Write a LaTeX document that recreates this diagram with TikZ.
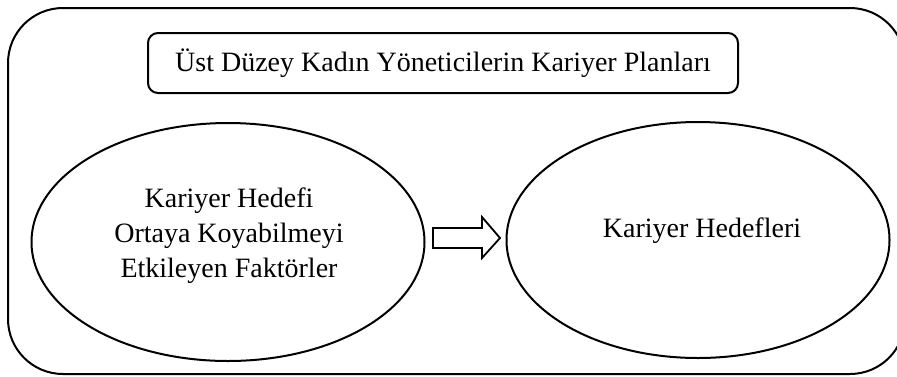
\documentclass[tikz,border=0pt]{standalone}
\usepackage{fontspec}
\setmainfont{Liberation Serif}
\usetikzlibrary{shapes.geometric}
\begin{document}
\begin{tikzpicture}[x=1pt,y=-1pt,
  frame/.style={draw=black,line width=2pt},
  lbl/.style={font=\fontsize{28}{35}\selectfont,align=center,text=black},
  oval/.style={frame,ellipse,inner sep=0pt},
  blockarrow/.style={draw=black,line width=1.8pt,fill=white,line join=miter}]
\useasboundingbox (0,0) rectangle (897,376);
\clip (0,0) rectangle (897,376);
\draw[frame,rounded corners=55pt] (8,8) rectangle (905,374);
\node[frame,rounded corners=10pt,minimum width=590pt,minimum height=60pt,inner sep=0pt,lbl] (title) at (443,63) {Üst Düzey Kadın Yöneticilerin Kariyer Planları};
\node[oval,minimum width=393pt,minimum height=238pt] (left) at (228,242) {};
\node[oval,minimum width=383pt,minimum height=236pt] (right) at (698,240) {};
\node[lbl,inner sep=0pt] (lefttext) at (229,236) {Kariyer Hedefi\\Ortaya Koyabilmeyi\\Etkileyen Faktörler};
\node[lbl,inner sep=0pt] (righttext) at (702,231) {Kariyer Hedefleri};
\coordinate (a0) at (433,238);
\draw[blockarrow] (a0) ++(0,-10) -- ++(49,0) -- ++(0,-11) -- (500,238) -- (482,258) -- ++(0,-10) -- ++(-49,0) -- cycle;
\end{tikzpicture}
\end{document}
